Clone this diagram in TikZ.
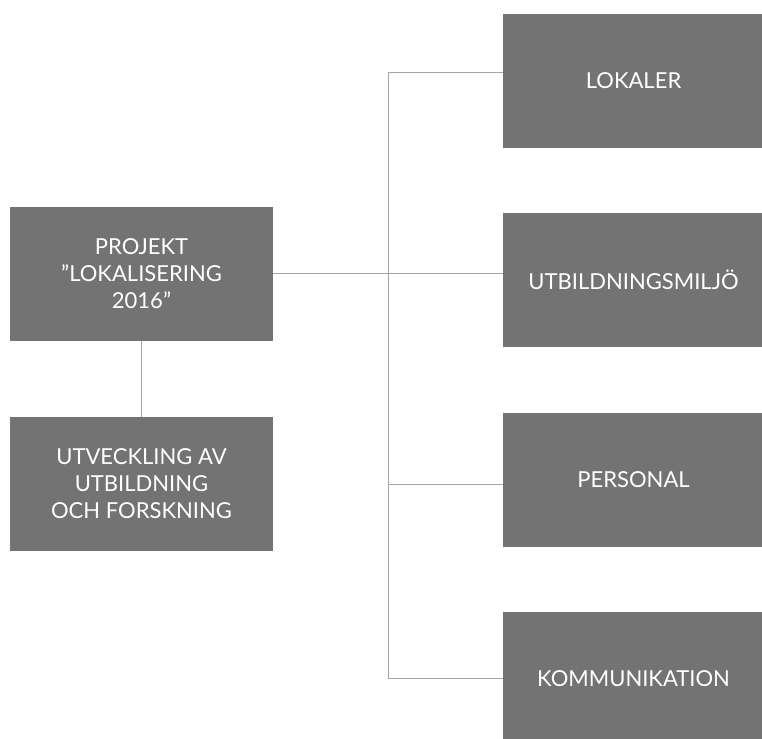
\documentclass[tikz,border=0pt]{standalone}
\usepackage{fontspec}
\setmainfont{Lato}
\usetikzlibrary{positioning}
\definecolor{boxgray}{RGB}{114,115,114}
\definecolor{linegray}{RGB}{165,165,165}

\begin{document}
\begin{tikzpicture}[x=1pt,y=-1pt,node distance=199.3pt,
		box/.style={rectangle,fill=boxgray,text=white,inner sep=0pt,
			minimum width=261pt,minimum height=134pt,align=center,
			font=\fontsize{22}{27}\selectfont},
		link/.style={draw=linegray,line width=1pt}]

		\useasboundingbox (0,0) rectangle (762,738);
		\clip (0,0) rectangle (762,738);

		% left column
		\node[box,minimum width=263pt] (proj) at (141.5,273.5) {PROJEKT\\”LOKALISERING\\2016”};
		\node[box,minimum width=263pt,node distance=210.5pt] (utv) [below of=proj] {UTVECKLING AV\\UTBILDNING\\OCH FORSKNING};

		% right column
		\node[box] (lok) at (633.5,81) {LOKALER};
		\node[box] (miljo) [below of=lok] {UTBILDNINGSMILJÖ};
		\node[box] (pers) [below of=miljo] {PERSONAL};
		\node[box] (komm) [below of=pers] {KOMMUNIKATION};

		% branch points on the trunk
		\coordinate (b1) at (388,73);
		\coordinate (b3) at (388,484);
		\coordinate (b4) at (388,678);

		\path[link]
		(proj.south) edge (utv.north)
		(proj.east) edge (proj.east -| miljo.west)
		(b1) edge (b4)
		(b1) edge (b1 -| lok.west)
		(b3) edge (b3 -| pers.west)
		(b4) edge (b4 -| komm.west);
	\end{tikzpicture}
\end{document}
